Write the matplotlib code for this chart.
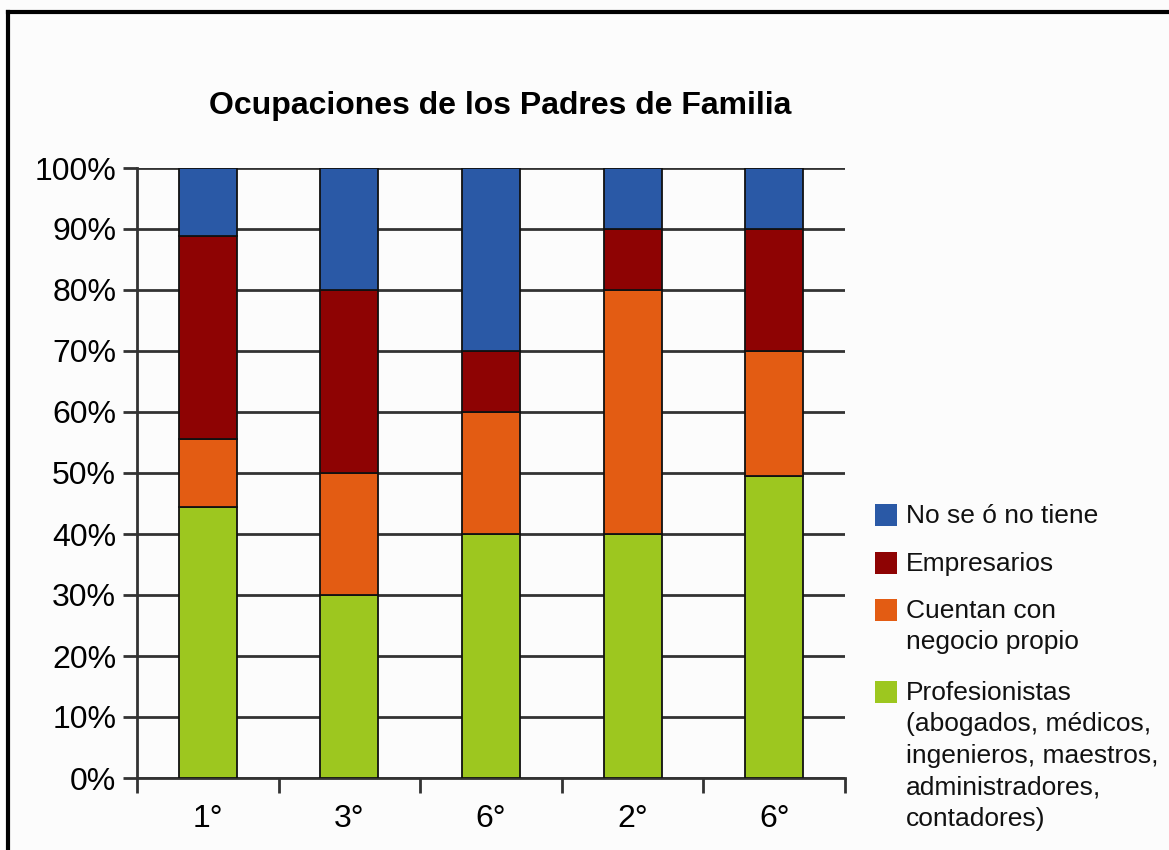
import numpy as np
import matplotlib.pyplot as plt
from matplotlib.patches import Rectangle
from matplotlib.lines import Line2D

plt.rcParams['font.family'] = ['Liberation Sans', 'DejaVu Sans']

# data
grades = ['1°', '3°', '6°', '2°', '6°']
profesionistas = [44.4, 30, 40, 40, 49.5]
negocio_propio = [11.1, 20, 20, 40, 20.5]
empresarios = [33.4, 30, 10, 10, 20]
no_se = [11.1, 20, 30, 10, 10]

series = [
    ('Profesionistas\n(abogados, médicos,\ningenieros, maestros,\nadministradores,\ncontadores)',
     profesionistas, '#9dc71f'),
    ('Cuentan con\nnegocio propio', negocio_propio, '#e35c13'),
    ('Empresarios', empresarios, '#8e0303'),
    ('No se ó no tiene', no_se, '#2a59a6'),
]

W, H = 1169, 850
fig = plt.figure(figsize=(W / 100, H / 100), dpi=100, facecolor='#fcfcfc')
ax = fig.add_axes([137 / W, 1 - 778 / H, (845 - 137) / W, (778 - 168) / H])
ax.set_facecolor('none')

x = np.arange(len(grades))
bottom = np.zeros(len(grades))
for label, vals, color in series:
    ax.bar(x, vals, width=0.41, bottom=bottom, color=color,
           edgecolor='#111111', linewidth=1.3, zorder=3)
    bottom += np.array(vals)

ax.set_xlim(-0.5, len(grades) - 0.5)
ax.set_ylim(0, 100)
ax.set_yticks(np.arange(0, 101, 10))
ax.set_yticklabels([f'{v}%' for v in range(0, 101, 10)], fontsize=23)
ax.set_xticks(x)
ax.set_xticklabels(grades, fontsize=23)
ax.set_xticks(np.arange(-0.5, len(grades), 1), minor=True)
ax.tick_params(axis='x', which='major', length=0, pad=19)
ax.tick_params(axis='x', which='minor', length=11, width=2, color='#333333')
ax.tick_params(axis='y', length=10, width=2, color='#333333', pad=5)

ax.yaxis.grid(True, color='#333333', linewidth=2)
ax.set_axisbelow(True)
for side in ['top', 'right']:
    ax.spines[side].set_visible(False)
for side in ['left', 'bottom']:
    ax.spines[side].set_color('#333333')
    ax.spines[side].set_linewidth(2)

fig.text(500 / W, 1 - 106 / H, 'Ocupaciones de los Padres de Familia',
         ha='center', va='center', fontsize=23, fontweight='bold')

# legend drawn by hand so the squares sit on the first line
legend_rows = [(series[3], 515), (series[2], 563), (series[1], 610), (series[0], 692)]
for (label, vals, color), yc in legend_rows:
    fig.patches.append(Rectangle((875 / W, 1 - (yc + 11) / H), 22 / W, 22 / H,
                                 transform=fig.transFigure, facecolor=color,
                                 edgecolor='none'))
    fig.text(906 / W, 1 - (yc - 11) / H, label, ha='left', va='top',
             fontsize=19, linespacing=1.39, color='#111111')

# outer frame (only top and left edges are visible)
fig.add_artist(Line2D([8 / W, 1], [1 - 12 / H, 1 - 12 / H], color='black', linewidth=3))
fig.add_artist(Line2D([8 / W, 8 / W], [0, 1 - 12 / H], color='black', linewidth=3))

fig.savefig('out.png', dpi=100, facecolor=fig.get_facecolor())
